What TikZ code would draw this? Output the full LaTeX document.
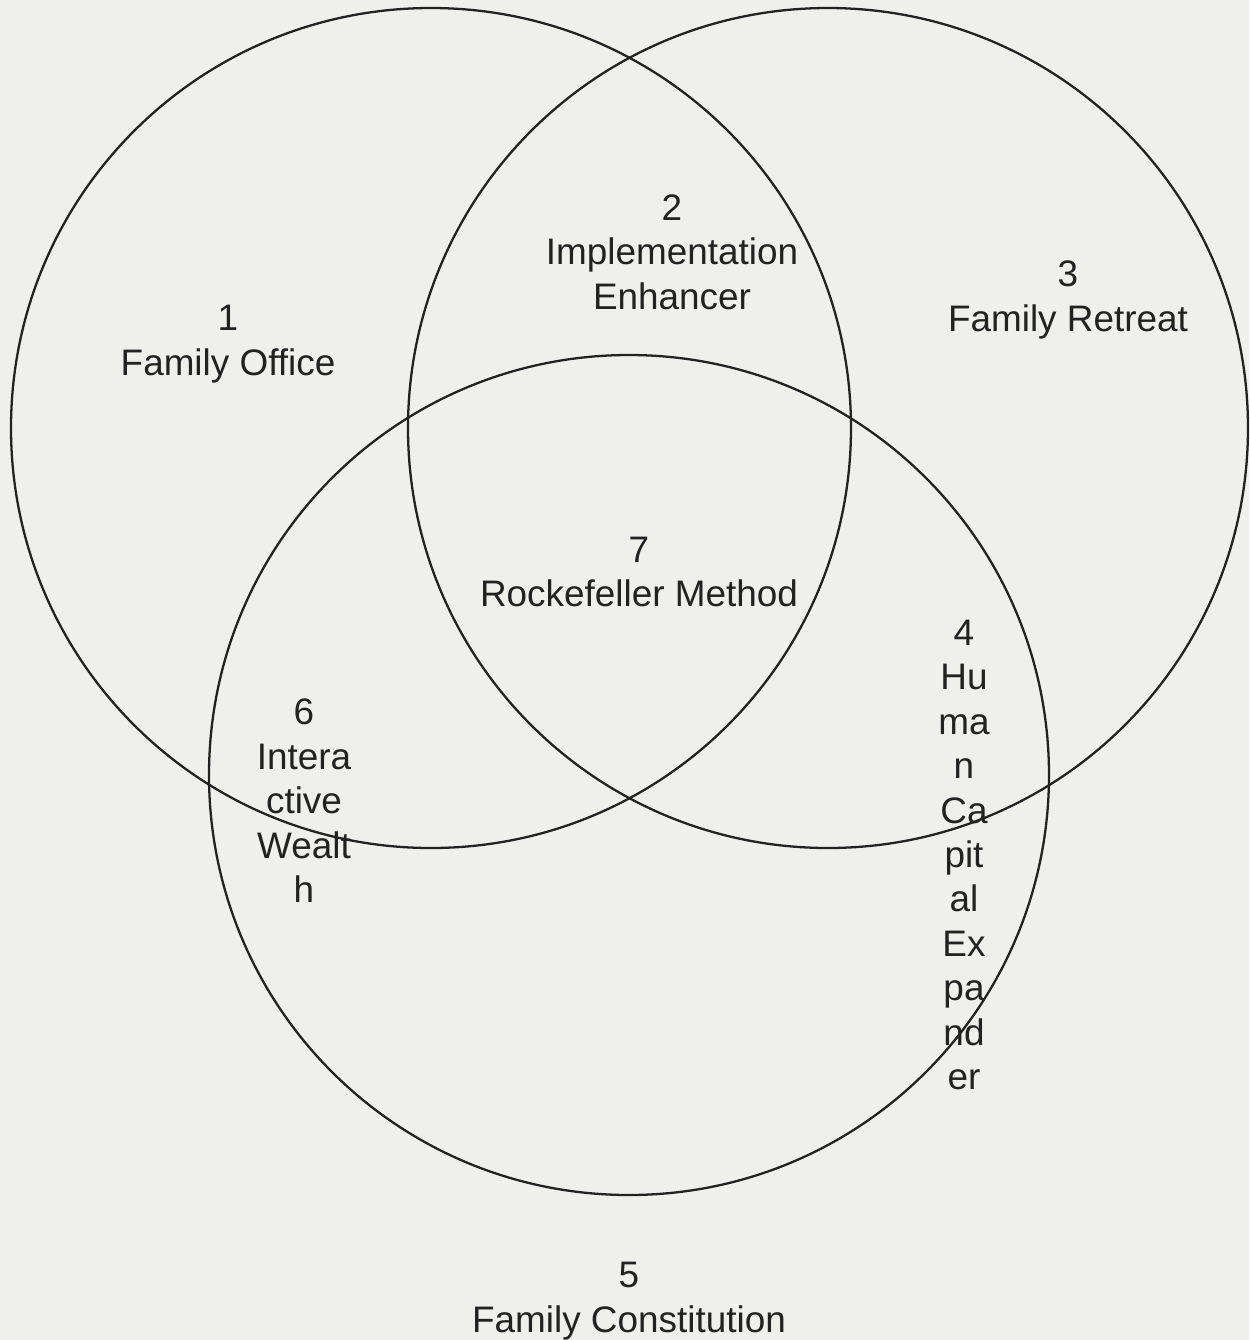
\documentclass[tikz,border=0pt]{standalone}
\usepackage{fontspec}
\setmainfont{Liberation Sans}
\usetikzlibrary{backgrounds}
\definecolor{paper}{HTML}{EFEFEB}
\definecolor{ink}{HTML}{222222}
\newcommand{\rad}{420}
\newcommand{\ringwidth}{1.3pt}

\begin{document}
\begin{tikzpicture}[x=0.02cm, y=-0.02cm,
  setname/.style={text=ink, align=center, inner sep=0pt,
    font=\fontsize{21}{25.3}\selectfont}]
\useasboundingbox (0,0) rectangle (1249,1340);
\begin{scope}[on background layer]
\fill[paper] (0,0) rectangle (1249,1340);
\end{scope}
\coordinate (c1) at (431, 428);
\coordinate (c2) at (828, 428);
\coordinate (c3) at (629, 775);
%rings
\draw[ink] [line width = \ringwidth] (c1) circle (\rad);
\draw[ink] [line width = \ringwidth] (c2) circle (\rad);
\draw[ink] [line width = \ringwidth] (c3) circle (\rad);
%labels
\node[setname] (1) at (228, 344) {1\\Family Office};
\node[setname] (2) at (672, 252) {2\\Implementation\\Enhancer};
\node[setname] (3) at (1068, 300) {3\\Family Retreat};
\node[setname] (4) at (964, 855) {4\\Hu\\ma\\n\\Ca\\pit\\al\\Ex\\pa\\nd\\er};
\node[setname] (5) at (629, 1301) {5\\Family Constitution};
\node[setname] (6) at (304, 801) {6\\Intera\\ctive\\Wealt\\h};
\node[setname] (7) at (639, 572) {7\\Rockefeller Method};
\end{tikzpicture}
\end{document}
